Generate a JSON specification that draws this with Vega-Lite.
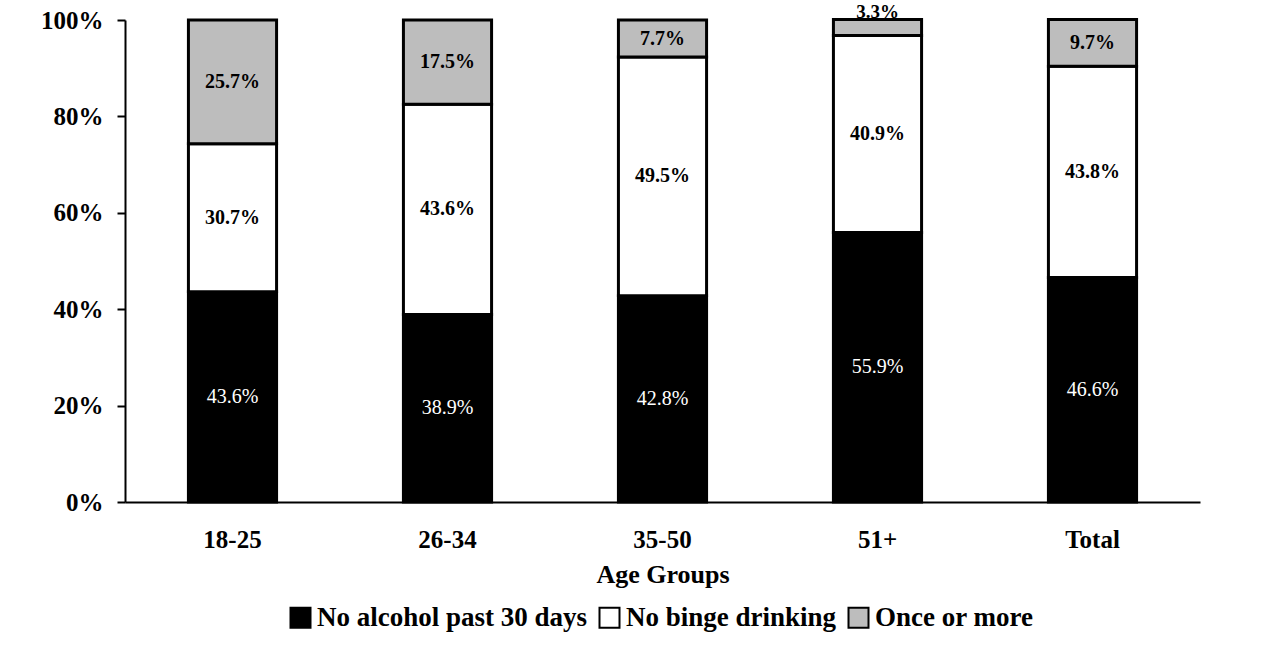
{
  "$schema": "https://vega.github.io/schema/vega-lite/v6.json",
  "width": 1075,
  "height": 482,
  "autosize": {"type": "none"},
  "padding": {"left": 125, "top": 20, "right": 62, "bottom": 148},
  "background": "white",
  "config": {
    "font": "Liberation Serif",
    "view": {"stroke": null}
  },
  "data": {
    "values": [
      {"age": "18-25", "cat": "No alcohol past 30 days", "order": 1, "value": 43.6},
      {"age": "18-25", "cat": "No binge drinking", "order": 2, "value": 30.7},
      {"age": "18-25", "cat": "Once or more", "order": 3, "value": 25.7},
      {"age": "26-34", "cat": "No alcohol past 30 days", "order": 1, "value": 38.9},
      {"age": "26-34", "cat": "No binge drinking", "order": 2, "value": 43.6},
      {"age": "26-34", "cat": "Once or more", "order": 3, "value": 17.5},
      {"age": "35-50", "cat": "No alcohol past 30 days", "order": 1, "value": 42.8},
      {"age": "35-50", "cat": "No binge drinking", "order": 2, "value": 49.5},
      {"age": "35-50", "cat": "Once or more", "order": 3, "value": 7.7},
      {"age": "51+", "cat": "No alcohol past 30 days", "order": 1, "value": 55.9},
      {"age": "51+", "cat": "No binge drinking", "order": 2, "value": 40.9},
      {"age": "51+", "cat": "Once or more", "order": 3, "value": 3.3},
      {"age": "Total", "cat": "No alcohol past 30 days", "order": 1, "value": 46.6},
      {"age": "Total", "cat": "No binge drinking", "order": 2, "value": 43.8},
      {"age": "Total", "cat": "Once or more", "order": 3, "value": 9.7}
    ]
  },
  "transform": [
    {"stack": "value", "groupby": ["age"], "sort": [{"field": "order", "order": "ascending"}], "as": ["v0", "v1"]},
    {"calculate": "(datum.v0 + datum.v1) / 2", "as": "mid"},
    {"calculate": "format(datum.value, '.1f') + '%'", "as": "lab"}
  ],
  "layer": [
    {
      "mark": {"type": "bar", "stroke": "black", "strokeWidth": 3},
      "encoding": {
        "x": {
          "field": "age", "type": "nominal",
          "sort": ["18-25", "26-34", "35-50", "51+", "Total"],
          "scale": {"paddingInner": 0.59, "paddingOuter": 0.295},
          "axis": {
            "title": "Age Groups", "labelAngle": 0, "ticks": false,
            "domainColor": "black", "domainWidth": 2,
            "labelFont": "Liberation Serif", "labelFontSize": 25, "labelFontWeight": "bold", "labelColor": "black",
            "labelPadding": 25,
            "titleFont": "Liberation Serif", "titleFontSize": 26, "titleFontWeight": "bold", "titleColor": "black",
            "titlePadding": 9
          }
        },
        "y": {
          "field": "v1", "type": "quantitative",
          "scale": {"domain": [0, 100]},
          "axis": {
            "title": null, "grid": false, "values": [0, 20, 40, 60, 80, 100],
            "labelExpr": "datum.value + '%'",
            "domainColor": "black", "domainWidth": 2,
            "tickColor": "black", "tickWidth": 2, "tickSize": 8,
            "labelFont": "Liberation Serif", "labelFontSize": 25, "labelFontWeight": "bold", "labelColor": "black",
            "labelPadding": 14
          }
        },
        "y2": {"field": "v0"},
        "color": {
          "field": "cat", "type": "nominal",
          "scale": {
            "domain": ["No alcohol past 30 days", "No binge drinking", "Once or more"],
            "range": ["#000000", "#ffffff", "#bdbdbd"]
          },
          "legend": {
            "title": null, "orient": "none", "legendX": 162, "legendY": 584,
            "direction": "horizontal", "symbolType": "square", "symbolSize": 400,
            "symbolStrokeColor": "black", "symbolStrokeWidth": 2,
            "labelFont": "Liberation Serif", "labelFontSize": 27, "labelFontWeight": "bold", "labelColor": "black",
            "labelOffset": 3, "columnPadding": 7, "labelLimit": 400
          }
        }
      }
    },
    {
      "transform": [{"filter": "datum.order == 1"}],
      "mark": {"type": "text", "fontSize": 20, "fontWeight": "normal", "color": "white", "font": "Liberation Serif"},
      "encoding": {
        "x": {"field": "age", "type": "nominal", "sort": ["18-25", "26-34", "35-50", "51+", "Total"]},
        "y": {"field": "mid", "type": "quantitative"},
        "text": {"field": "lab"}
      }
    },
    {
      "transform": [{"filter": "datum.order > 1 && datum.value > 5"}],
      "mark": {"type": "text", "fontSize": 20, "fontWeight": "bold", "color": "black", "font": "Liberation Serif"},
      "encoding": {
        "x": {"field": "age", "type": "nominal", "sort": ["18-25", "26-34", "35-50", "51+", "Total"]},
        "y": {"field": "mid", "type": "quantitative"},
        "text": {"field": "lab"}
      }
    },
    {
      "transform": [{"filter": "datum.order > 1 && datum.value <= 5"}],
      "mark": {"type": "text", "fontSize": 19, "fontWeight": "bold", "color": "black", "font": "Liberation Serif", "baseline": "alphabetic", "dy": -2},
      "encoding": {
        "x": {"field": "age", "type": "nominal", "sort": ["18-25", "26-34", "35-50", "51+", "Total"]},
        "y": {"field": "v1", "type": "quantitative"},
        "text": {"field": "lab"}
      }
    }
  ]
}
